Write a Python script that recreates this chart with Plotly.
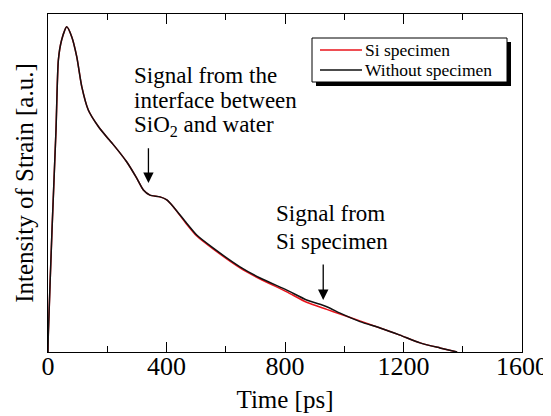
import plotly.graph_objects as go

# ---- data ----
time_ps = [0, 1, 13.5, 27, 35, 46, 63, 80, 97, 114, 136, 170, 204, 219, 266, 299, 322, 344,
           378, 401, 423, 468, 502, 557, 648, 716, 806, 873, 941, 986, 1053, 1121, 1188,
           1256, 1323, 1381]
without_specimen = [0, 0.05, 0.36, 0.657, 0.864, 0.923, 0.962, 0.933, 0.874, 0.785, 0.716,
                    0.667, 0.630, 0.615, 0.562, 0.515, 0.479, 0.464, 0.459, 0.450, 0.430,
                    0.381, 0.346, 0.308, 0.252, 0.219, 0.183, 0.154, 0.134, 0.115, 0.090,
                    0.071, 0.050, 0.027, 0.012, 0.0]
si_specimen = [0, 0.05, 0.36, 0.657, 0.864, 0.923, 0.962, 0.933, 0.874, 0.785, 0.716,
               0.667, 0.630, 0.615, 0.562, 0.515, 0.479, 0.464, 0.459, 0.450, 0.430,
               0.378, 0.343, 0.305, 0.249, 0.216, 0.178, 0.147, 0.126, 0.112, 0.092,
               0.071, 0.050, 0.027, 0.012, 0.0]
x_tick_vals = [0, 400, 800, 1200, 1600]
x_tick_text = ["0", "400", "800", "1200", "1600"]
series_names = ["Si specimen", "Without specimen"]
series_colors = ["#e8131b", "#111111"]

FONT = "Liberation Serif"

# page has an 8px body margin; layout numbers below are in page pixels
OFF = 8
L, T, W, H = 48, 14, 474, 338
FIG_W, FIG_H = 551 - OFF, 416 - OFF

def px(x):
    return (x - L) / W

def py(y):
    return (T + H - y) / H

fig = go.Figure()
fig.add_trace(go.Scatter(x=time_ps, y=si_specimen, mode="lines", name=series_names[0],
                         line=dict(color=series_colors[0], width=1.5, shape="spline", smoothing=0.6),
                         showlegend=False))
fig.add_trace(go.Scatter(x=time_ps, y=without_specimen, mode="lines", name=series_names[1],
                         line=dict(color=series_colors[1], width=1.5, shape="spline", smoothing=0.6),
                         showlegend=False))

# legend box with drop shadow
shapes = [
    dict(type="rect", xref="paper", yref="paper", x0=px(316), x1=px(511), y0=py(86), y1=py(42),
         fillcolor="black", line=dict(width=0), layer="below"),
    dict(type="rect", xref="paper", yref="paper", x0=px(312), x1=px(507), y0=py(82), y1=py(38),
         fillcolor="white", line=dict(color="black", width=1), layer="below"),
]
annos = []
for i, (name, col) in enumerate(zip(series_names, series_colors)):
    yy = 50 + 20 * i
    shapes.append(dict(type="line", xref="paper", yref="paper", x0=px(320), x1=px(362),
                       y0=py(yy), y1=py(yy), line=dict(color=col, width=1.5)))
    annos.append(dict(x=px(363), y=py(yy), xref="paper", yref="paper", text=name, showarrow=False,
                      xanchor="left", yanchor="middle",
                      font=dict(family=FONT, size=17.5, color="black")))

for txt, yy in [("Signal from the", 0.817), ("interface between", 0.743),
                ("SiO<sub>2</sub> and water", 0.669)]:
    annos.append(dict(x=282, y=yy, xref="x", yref="y", text=txt, showarrow=False,
                      xanchor="left", yanchor="middle", font=dict(family=FONT, size=23, color="black")))
for txt, yy in [("Signal from", 0.411), ("Si specimen", 0.328)]:
    annos.append(dict(x=764, y=yy, xref="x", yref="y", text=txt, showarrow=False,
                      xanchor="left", yanchor="middle", font=dict(family=FONT, size=23, color="black")))
# arrows
annos.append(dict(x=339, y=0.50, ax=339, ay=0.607, xref="x", yref="y", axref="x", ayref="y",
                  text="", showarrow=True, arrowhead=2, arrowsize=1.6, arrowwidth=1.3, arrowcolor="black"))
annos.append(dict(x=929, y=0.154, ax=929, ay=0.263, xref="x", yref="y", axref="x", ayref="y",
                  text="", showarrow=True, arrowhead=2, arrowsize=1.6, arrowwidth=1.3, arrowcolor="black"))

fig.update_layout(
    width=FIG_W, height=FIG_H,
    margin=dict(l=L - OFF, r=FIG_W - (L - OFF) - W, t=T - OFF, b=FIG_H - (T - OFF) - H, autoexpand=False),
    paper_bgcolor="white", plot_bgcolor="white",
    font=dict(family=FONT, color="black"),
    showlegend=False,
    shapes=shapes,
    annotations=annos,
)
fig.update_xaxes(range=[0, 1600], tickvals=x_tick_vals, ticktext=x_tick_text,
                 ticks="inside", ticklen=10, tickwidth=1, tickcolor="black",
                 minor=dict(dtick=200, tick0=0, ticks="inside", ticklen=6, tickcolor="black", tickwidth=1),
                 showline=True, linecolor="black", linewidth=1.3, mirror="ticks",
                 showgrid=False, zeroline=False, automargin=False,
                 ticklabelstandoff=-9,
                 tickfont=dict(family=FONT, size=26, color="black"),
                 title=dict(text="Time [ps]", font=dict(family=FONT, size=25, color="black"), standoff=10))
fig.update_yaxes(range=[0, 1], showticklabels=False, ticks="",
                 showline=True, linecolor="black", linewidth=1.3, mirror=True,
                 showgrid=False, zeroline=False, automargin=False,
                 title=dict(text="Intensity of Strain [a.u.]", font=dict(family=FONT, size=25, color="black"),
                            standoff=6))

fig.write_html("out.html")
